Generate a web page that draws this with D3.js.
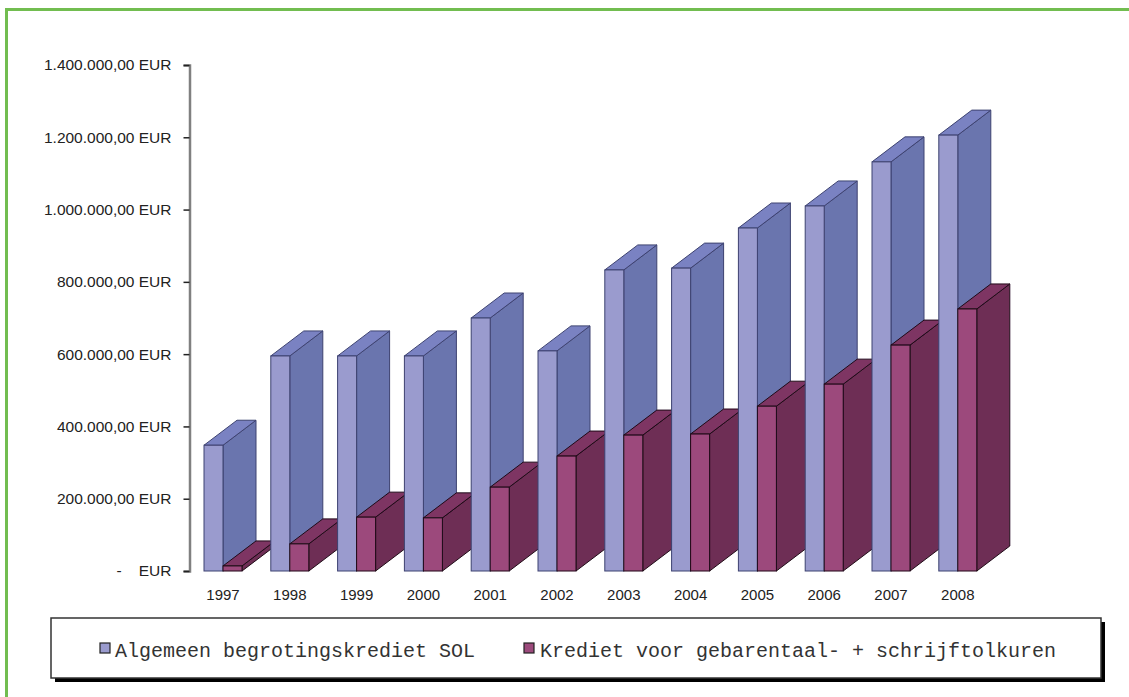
<!DOCTYPE html>
<html>
<head>
<meta charset="utf-8">
<script src="https://d3js.org/d3.v7.min.js"></script>
<style>
  html, body { margin: 0; padding: 0; background: #fff; }
  svg { display: block; }
  .tick text { white-space: pre; }
</style>
</head>
<body>
<svg id="chart" width="1129" height="697"></svg>
<script>
const years = ["1997", "1998", "1999", "2000", "2001", "2002", "2003", "2004", "2005", "2006", "2007", "2008"];
const algemeen = [348000, 595000, 595000, 595000, 700000, 609000, 833000, 838000, 949000, 1010000, 1132000, 1206000];
const tolkuren = [14000, 75000, 149000, 147000, 232000, 318000, 376000, 379000, 456000, 517000, 625000, 725000];
const yTicks = [0, 200000, 400000, 600000, 800000, 1000000, 1200000, 1400000];
const seriesNames = ["Algemeen begrotingskrediet SOL", "Krediet voor gebarentaal- + schrijftolkuren"];

const svg = d3.select("#chart");

const x = d3.scaleBand().domain(years).range([189.6, 991.2]);
const y = d3.scaleLinear().domain([0, 1400000]).range([571, 65]);

// depth of the fake 3d bars
const depthX = 33;
const depthY = -25;
const barW = 19;

const blue = { front: "#9a9bce", side: "#6b74ae", top: "#7a82c2", line: "#3d4270" };
const red = { front: "#9c4a7c", side: "#6e2f55", top: "#7e3664", line: "#1f0a17" };

const defs = svg.append("defs");
const soft = defs.append("filter").attr("id", "soft")
  .attr("x", "-5%").attr("y", "-5%").attr("width", "110%").attr("height", "110%");
soft.append("feGaussianBlur").attr("stdDeviation", 0.5);

// green frame, only top and left are visible
svg.append("path")
  .attr("d", "M6.5,697 V9.5 H1129")
  .attr("fill", "none")
  .attr("stroke", "#72bd50")
  .attr("stroke-width", 3);

// y axis
const fmt = d3.formatLocale({ decimal: ",", thousands: ".", grouping: [3], currency: ["", ""] }).format(",.2f");
const yAxis = d3.axisLeft(y)
  .tickValues(yTicks)
  .tickSize(6)
  .tickPadding(12)
  .tickFormat(d => d === 0 ? "-    EUR" : fmt(d) + " EUR");

const yG = svg.append("g")
  .attr("transform", "translate(189.5,0)")
  .call(yAxis);
yG.select(".domain").attr("stroke", "#808080").attr("stroke-width", 2.5);
yG.selectAll(".tick line").attr("stroke", "#222").attr("stroke-width", 1.5);
yG.selectAll(".tick text")
  .attr("font-family", "Liberation Sans, Arial, sans-serif")
  .attr("font-size", 15.5)
  .attr("fill", "#222");

// x axis, only the labels
const xAxis = d3.axisBottom(x).tickSize(0).tickPadding(18);
const xG = svg.append("g")
  .attr("transform", "translate(0,571)")
  .call(xAxis);
xG.select(".domain").remove();
xG.selectAll(".tick text")
  .attr("font-family", "Liberation Sans, Arial, sans-serif")
  .attr("font-size", 15)
  .attr("fill", "#222");

// one bar: side, top, then front
function drawBar(g, x0, value, c) {
  const x1 = x0 + barW;
  const yTop = y(value);
  const yBase = y(0);
  const pts = a => a.map(p => p.join(",")).join(" ");

  g.append("polygon")
    .attr("points", pts([[x1, yTop], [x1 + depthX, yTop + depthY], [x1 + depthX, yBase + depthY], [x1, yBase]]))
    .attr("fill", c.side).attr("stroke", c.line).attr("stroke-width", 1).attr("stroke-linejoin", "round");
  g.append("polygon")
    .attr("points", pts([[x0, yTop], [x0 + depthX, yTop + depthY], [x1 + depthX, yTop + depthY], [x1, yTop]]))
    .attr("fill", c.top).attr("stroke", c.line).attr("stroke-width", 1).attr("stroke-linejoin", "round");
  g.append("rect")
    .attr("x", x0).attr("y", yTop)
    .attr("width", barW).attr("height", yBase - yTop)
    .attr("fill", c.front).attr("stroke", c.line).attr("stroke-width", 1);
}

const bars = svg.append("g").attr("filter", "url(#soft)");
years.forEach((yr, i) => {
  const mid = x(yr) + x.bandwidth() / 2;
  drawBar(bars, mid - barW, algemeen[i], blue);
  drawBar(bars, mid, tolkuren[i], red);
});

// legend
const legend = svg.append("g");
legend.append("rect")
  .attr("x", 55).attr("y", 622).attr("width", 1050).attr("height", 60)
  .attr("fill", "#000").attr("filter", "url(#soft)");
legend.append("rect")
  .attr("x", 51).attr("y", 618).attr("width", 1050).attr("height", 60)
  .attr("fill", "#fff").attr("stroke", "#333").attr("stroke-width", 1.5);

const legendItems = [
  { name: seriesNames[0], color: blue.front, swatch: 100, text: 115 },
  { name: seriesNames[1], color: red.front, swatch: 524, text: 540 }
];
legendItems.forEach(d => {
  legend.append("rect")
    .attr("x", d.swatch).attr("y", 643).attr("width", 10).attr("height", 10)
    .attr("fill", d.color).attr("stroke", "#222").attr("stroke-width", 1.2);
  legend.append("text")
    .attr("x", d.text).attr("y", 657)
    .attr("font-family", "Liberation Mono, Courier New, monospace")
    .attr("font-size", 20)
    .attr("fill", "#333")
    .text(d.name);
});
</script>
</body>
</html>
